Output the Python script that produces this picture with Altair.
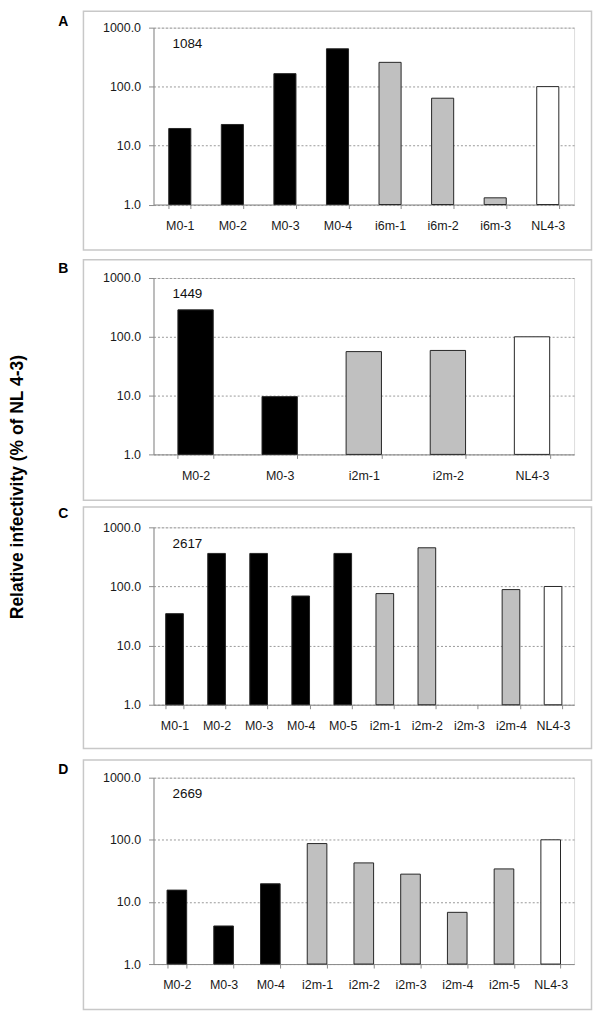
import altair as alt
import pandas as pd

# ---------------- data ----------------
panel_letters = ["A", "B", "C", "D"]
patient_ids = ["1084", "1449", "2617", "2669"]

a_categories = ["M0-1", "M0-2", "M0-3", "M0-4", "i6m-1", "i6m-2", "i6m-3", "NL4-3"]
a_values = [19.5, 22.8, 166, 438, 258, 63.6, 1.3, 100]

b_categories = ["M0-2", "M0-3", "i2m-1", "i2m-2", "NL4-3"]
b_values = [287, 9.6, 56, 58.6, 100]

c_categories = ["M0-1", "M0-2", "M0-3", "M0-4", "M0-5", "i2m-1", "i2m-2", "i2m-3", "i2m-4", "NL4-3"]
c_values = [34.7, 362, 362, 69, 362, 75.8, 451, None, 88.6, 100]

d_categories = ["M0-2", "M0-3", "M0-4", "i2m-1", "i2m-2", "i2m-3", "i2m-4", "i2m-5", "NL4-3"]
d_values = [15.5, 4.1, 19.6, 87, 42.5, 28, 6.8, 34, 100]

y_tick_values = [1, 10, 100, 1000]
y_title = "Relative infectivity (% of NL 4-3)"

# ---------------- layout / style ----------------
W = 422
heights = [177.5, 177, 178, 187]
box_top = [-16.5, -18.3, -20.3, -17.7]
box_bottom = [45.7, 46, 44, 45.5]
letter_top = [-13, -16.5, -20, -15]
FONT = "Liberation Sans"

group_domain = ["M0", "int", "ref"]
group_colors = ["#000000", "#c0c0c0", "#ffffff"]


def group_of(c):
    if c.startswith("M0"):
        return "M0"
    if c.startswith("NL"):
        return "ref"
    return "int"


def panel(i, cats, vals):
    H = heights[i]
    df = pd.DataFrame({"cat": cats, "val": vals, "grp": [group_of(c) for c in cats]})
    df = df[df["val"].notna()]

    one = pd.DataFrame({"k": [0]})

    box = alt.Chart(one).mark_rect(filled=False, stroke="#c8c8c8", strokeWidth=1.5).encode(
        x=alt.value(-70.3), x2=alt.value(W + 17.5),
        y=alt.value(box_top[i]), y2=alt.value(H + box_bottom[i]),
    )

    bars = alt.Chart(df).mark_bar(stroke="#262626", strokeWidth=1).encode(
        x=alt.X(
            "cat:N",
            sort=cats,
            scale=alt.Scale(domain=cats, paddingInner=0.58, paddingOuter=0.29),
            axis=alt.Axis(
                title=None, labelAngle=0, tickBand="extent", tickSize=4,
                labelPadding=11, grid=False, domainColor="#8c8c8c",
                tickColor="#8c8c8c", labelFontSize=12.5, labelColor="#1a1a1a",
                labelFont=FONT,
            ),
        ),
        y=alt.Y(
            "val:Q",
            scale=alt.Scale(type="log", domain=[1, 1000], nice=False),
            axis=alt.Axis(
                title=None, values=y_tick_values, format=".1f", grid=True,
                gridDash=[2, 2], gridColor="#9a9a9a", gridWidth=1,
                tickSize=5, labelPadding=8, domainColor="#8c8c8c",
                tickColor="#8c8c8c", labelFontSize=12.5, labelColor="#1a1a1a",
                labelFont=FONT,
            ),
        ),
        y2=alt.datum(1),
        color=alt.Color("grp:N", scale=alt.Scale(domain=group_domain, range=group_colors), legend=None),
    )

    note = alt.Chart(pd.DataFrame({"t": [patient_ids[i]]})).mark_text(
        align="left", baseline="middle", fontSize=13.5, font=FONT, color="#111111"
    ).encode(text="t:N", x=alt.value(19), y=alt.value(16.5))

    letter = alt.Chart(pd.DataFrame({"t": [panel_letters[i]]})).mark_text(
        align="center", baseline="top", fontSize=14, fontWeight="bold", font=FONT, color="#000000"
    ).encode(text="t:N", x=alt.value(-90.5), y=alt.value(letter_top[i]))

    layers = [box, bars, note, letter]

    if i == 1:
        title = alt.Chart(pd.DataFrame({"t": [y_title]})).mark_text(
            angle=270, align="center", baseline="top", fontSize=17.5,
            fontWeight="bold", font=FONT, color="#000000"
        ).encode(text="t:N", x=alt.value(-145), y=alt.value(485 - 275.2))
        layers.append(title)

    return alt.layer(*layers).properties(width=W, height=H)


chart = alt.vconcat(
    panel(0, a_categories, a_values),
    panel(1, b_categories, b_values),
    panel(2, c_categories, c_values),
    panel(3, d_categories, d_values),
    spacing=73.2,
    bounds="flush",
).properties(
    padding={"left": 0, "top": 0, "right": 0, "bottom": 0}
).configure_view(
    stroke="transparent"
).configure(
    background="white"
)

chart.save("out.html", embed_options={"renderer": "svg", "actions": False})
